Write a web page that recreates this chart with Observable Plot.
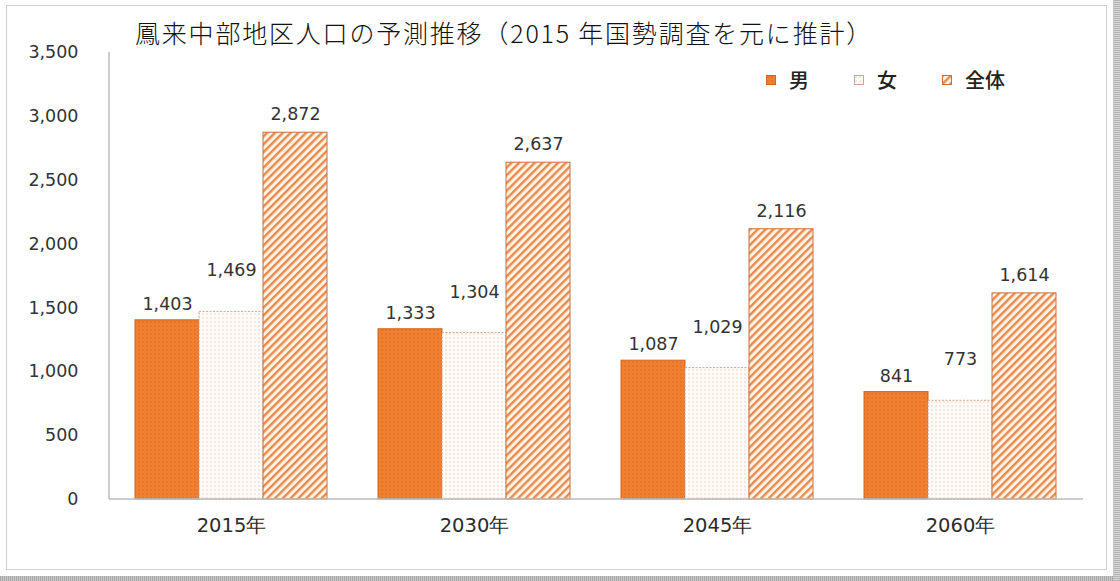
<!DOCTYPE html>
<html>
<head>
<meta charset="utf-8">
<script src="https://cdn.jsdelivr.net/npm/d3@7"></script>
<script src="https://cdn.jsdelivr.net/npm/@observablehq/plot@0.6"></script>
<style>
  html, body { margin: 0; padding: 0; background: #fff; }
  #wrap { position: relative; width: 1120px; height: 581px; overflow: hidden; background: #fff; }
  #frame { position: absolute; left: 6px; top: 5px; width: 1101px; height: 565px; border: 1.5px solid #cfcfcf; box-sizing: border-box; }
  #strip-b { position: absolute; left: 0; top: 576px; width: 1120px; height: 5px;
    background: repeating-linear-gradient(90deg, #a9a9a9 0 1px, #c8c8c8 1px 2px); }
  #strip-r { position: absolute; left: 1113px; top: 0; width: 7px; height: 581px;
    background: repeating-linear-gradient(0deg, #b5b5b5 0 1px, #d5d5d5 1px 2px); }
  #title { position: absolute; left: 135px; top: 14px; font-family: "Noto Sans CJK JP", sans-serif;
    font-size: 25px; font-weight: 300; color: #111; white-space: nowrap; letter-spacing: 1.8px; }
  #legend { position: absolute; left: 766px; top: 65px; font-family: "Noto Sans CJK JP", sans-serif;
    font-size: 20px; font-weight: 500; color: #222; display: flex; align-items: center; white-space: nowrap; }
  #legend .item { display: flex; align-items: center; margin-right: 45px; }
  #legend svg { margin-right: 13px; }
  #chart { position: absolute; left: 0; top: 0; }
</style>
</head>
<body>
<div id="wrap">
  <div id="strip-b"></div>
  <div id="strip-r"></div>
  <div id="frame"></div>
  <div id="chart"></div>
  <div id="title">鳳来中部地区人口の予測推移（2015 年国勢調査を元に推計）</div>
  <div id="legend"></div>
</div>
<script>
const years = ["2015年", "2030年", "2045年", "2060年"];
const series = ["男", "女", "全体"];
const male = [1403, 1333, 1087, 841];
const female = [1469, 1304, 1029, 773];
const total = [2872, 2637, 2116, 1614];
const yTicks = [0, 500, 1000, 1500, 2000, 2500, 3000, 3500];

const valuesBySeries = {"男": male, "女": female, "全体": total};
const table = [];
years.forEach((year, i) => {
  series.forEach(s => table.push({year, sex: s, value: valuesBySeries[s][i]}));
});

const styles = {
  "男":   {fill: "url(#pm)", stroke: "#d2671f", dash: null, dy: -16},
  "女":   {fill: "url(#pf)", stroke: "#c9a896", dash: "2,1.5", dy: -41},
  "全体": {fill: "url(#pt)", stroke: "#c9703a", dash: null, dy: -18}
};

const fmt = d3.format(",");
const font = "'DejaVu Sans', sans-serif";

const marks = [
  // the y axis sits in the first facet, whose frame begins after the outer padding
  Plot.axisY({ticks: yTicks, tickSize: 0, tickPadding: 0, dx: -56, tickFormat: fmt, fontSize: 17.5, fill: "#333", label: null}),
  Plot.axisFx({anchor: "bottom", tickSize: 0, tickPadding: 19, fontSize: 19.5, fill: "#2b2b2b", label: null})
];
series.forEach(s => {
  const st = styles[s];
  const data = table.filter(d => d.sex === s);
  marks.push(Plot.barY(data, {fx: "year", x: "sex", y: "value", fill: st.fill, stroke: st.stroke, strokeWidth: 1, strokeDasharray: st.dash}));
  marks.push(Plot.text(data, {fx: "year", x: "sex", y: "value", text: d => fmt(d.value), dy: st.dy, fontSize: 17.5, fill: "#333"}));
});

const chart = Plot.plot({
  width: 1120,
  height: 581,
  marginLeft: 109,
  marginRight: 37,
  marginTop: 52,
  marginBottom: 82,
  style: {fontFamily: font, background: "transparent", overflow: "visible"},
  fx: {domain: years, paddingInner: 0.2, paddingOuter: 0.1, label: null},
  x: {domain: series, padding: 0, axis: null},
  y: {domain: [0, 3500], axis: null},
  marks
});

// pattern defs
const ns = "http://www.w3.org/2000/svg";
const defs = document.createElementNS(ns, "defs");
defs.innerHTML = `
  <pattern id="pm" width="4" height="4" patternUnits="userSpaceOnUse">
    <rect width="4" height="4" fill="#f07f31"/>
    <circle cx="2" cy="2" r="0.9" fill="#e2721f"/>
  </pattern>
  <pattern id="pf" width="4" height="4" patternUnits="userSpaceOnUse">
    <rect width="4" height="4" fill="#fffbf8"/>
    <circle cx="2" cy="2" r="0.75" fill="#f3c8b0"/>
  </pattern>
  <pattern id="pt" width="5.5" height="5.5" patternUnits="userSpaceOnUse" patternTransform="rotate(45)">
    <rect width="5.5" height="5.5" fill="#fff3e6"/>
    <rect width="2.4" height="5.5" fill="#ea8b4e"/>
  </pattern>`;
chart.insertBefore(defs, chart.firstChild);

// axis lines drawn from the plot's own scales
const yS = chart.scale("y");
const y0 = yS.apply(0), yTop = yS.apply(3500);
const left = 109, right = 1120 - 37;
const base = document.createElementNS(ns, "line");
base.setAttribute("x1", left); base.setAttribute("x2", right);
base.setAttribute("y1", y0); base.setAttribute("y2", y0);
base.setAttribute("stroke", "#bdbdbd"); base.setAttribute("stroke-width", "1.5");
chart.appendChild(base);
const yl = document.createElementNS(ns, "line");
yl.setAttribute("x1", left); yl.setAttribute("x2", left);
yl.setAttribute("y1", yTop); yl.setAttribute("y2", y0);
yl.setAttribute("stroke", "#bdbdbd"); yl.setAttribute("stroke-width", "1.5");
chart.appendChild(yl);

document.getElementById("chart").appendChild(chart);

// legend
const legend = document.getElementById("legend");
series.forEach(s => {
  const st = styles[s];
  const item = document.createElement("div");
  item.className = "item";
  item.innerHTML = `<svg width="10" height="10"><rect x="0.5" y="0.5" width="9" height="9" fill="${st.fill}" stroke="${st.stroke}" stroke-width="1"/></svg><span>${s}</span>`;
  legend.appendChild(item);
});
</script>
</body>
</html>
